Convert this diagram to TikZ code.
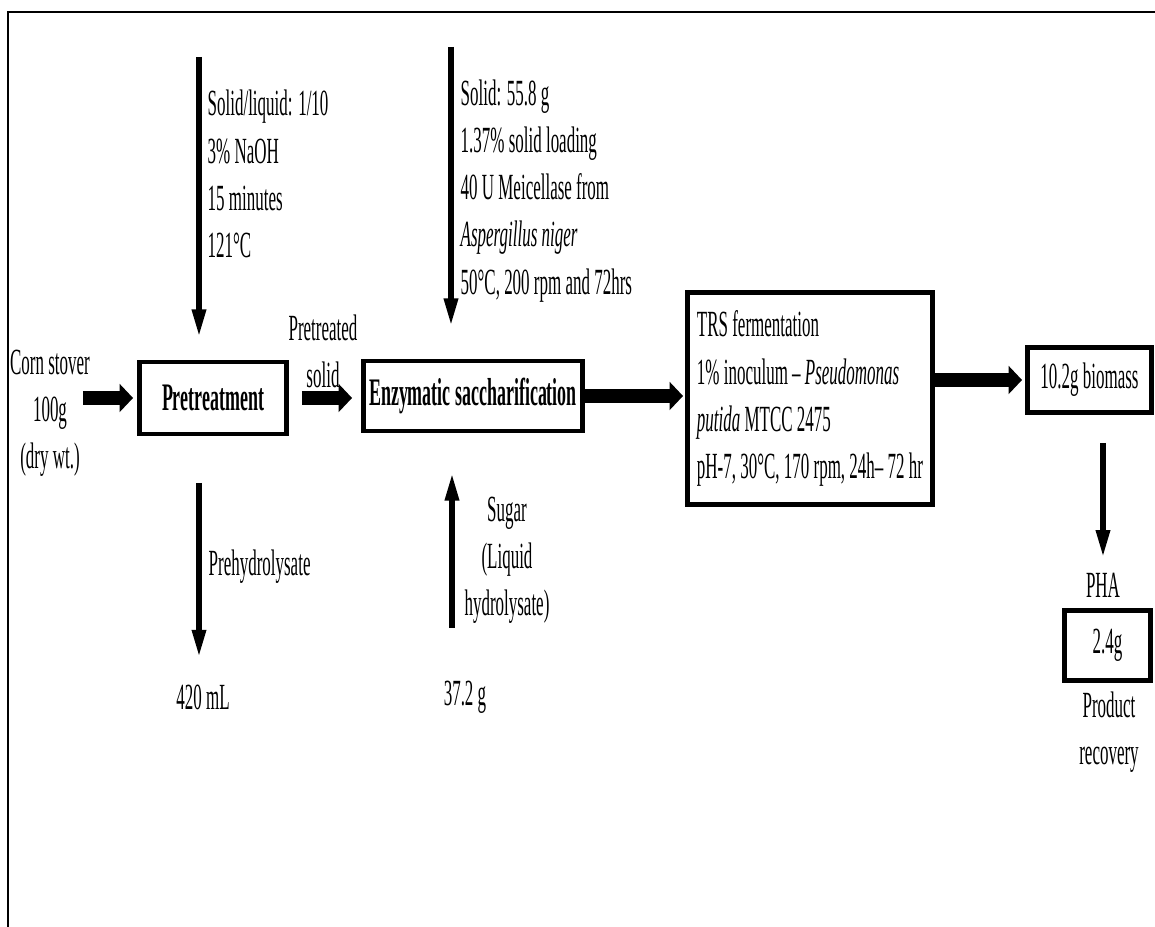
\documentclass[tikz,border=0pt]{standalone}
\usepackage{fontspec}
\setmainfont[FakeStretch=0.46]{Liberation Serif}
\usepackage{tikz}
\usetikzlibrary{positioning}
\usetikzlibrary{calc}
\usetikzlibrary{arrows.meta}
\tikzset{stage/.style={draw, line width=1.4pt, inner sep=0pt, align=center}}
\tikzset{txt/.style={inner sep=0pt, align=left}}
\tikzset{bigarrow/.style={line width=4pt, -{Triangle[length=3.8pt,width=7.8pt]}}}
\tikzset{thinarrow/.style={line width=1.5pt, -{Triangle[length=7.7pt,width=3.8pt]}}}

\begin{document}
\begin{tikzpicture}[x=0.1mm, y=-0.1mm, font=\fontsize{10.5}{13.4}\selectfont]
\def\bold{\bfseries\fontsize{11.1}{13}\selectfont}
\useasboundingbox (0,0) rectangle (1155,927);

\draw [line width=0.7pt] (8,927) -- (8,12) -- (1155,12); %frame

% process boxes
\node[stage, minimum width=14.7mm, minimum height=7.2mm, font=\bold] (pre) at (213,398) {Pretreatment};
\node[stage, minimum width=21.9mm, minimum height=7.0mm, font=\bold] (enz) at (473,396) {Enzymatic saccharification};
\node[stage, minimum width=24.5mm, minimum height=21.2mm, align=left] (trs) at (810,398.5)
  {TRS fermentation\\1\% inoculum -- \textit{Pseudomonas}\\\textit{putida} MTCC 2475\\pH-7, 30°C, 170 rpm, 24h-- 72 hr};
\node[stage, minimum width=12.4mm, minimum height=6.5mm] (bio) at (1089.5,380) {10.2g biomass};
\node[stage, minimum width=8.6mm, minimum height=7.0mm] (phabox) at (1107.5,645.5) {2.4g};

% labels
\node[txt, align=center] (corn) at (50,413) {Corn stover\\100g\\(dry wt.)};
\node[txt, anchor=west] (naoh) at (207,174) {Solid/liquid: 1/10\\3\% NaOH\\15 minutes\\121°C};
\node[txt, align=center] (solid) at (323,351) {Pretreated\\solid};
\node[txt, anchor=west] (enzyme) at (460,191)
  {Solid: 55.8 g\\1.37\% solid loading\\40 U Meicellase from\\\textit{Aspergillus niger}\\50°C, 200 rpm and 72hrs};
\node[txt, anchor=west] (prehyd) at (208,567) {Prehydrolysate};
\node[txt] (ml) at (203,697) {420 mL};
\node[txt, align=center] (sugar) at (507,560) {Sugar\\(Liquid\\hydrolysate)};
\node[txt] (gsugar) at (465,697) {37.2 g};
\node[txt] (pha) at (1103,585) {PHA};
\node[txt, align=center] (recov) at (1109,732) {Product\\recovery};

% main stream
\coordinate (feed) at (83,398);
\draw[bigarrow, shorten >=0.4mm] (feed) -- (feed -| pre.west);
\draw[bigarrow, shorten <=1.3mm, shorten >=0.9mm] (pre.east) -- (pre.east -| enz.west);
\draw[bigarrow, shorten >=0.2mm] (enz.east) -- (enz.east -| trs.west);
\draw[bigarrow, shorten >=0.3mm] (trs.east |- bio) -- (bio.west);

% side streams
\coordinate (naohtop) at (199,57);
\coordinate (enztop) at (451,47);
\coordinate (phtop) at (199,483);
\coordinate (sugbot) at (452,628);
\draw[thinarrow, shorten >=2.3mm] (naohtop) -- (naohtop |- pre.north);
\draw[thinarrow, shorten >=3.3mm] (enztop) -- (enztop |- enz.north);
\draw[thinarrow, shorten >=2.7mm] (phtop) -- (phtop |- ml.north);
\draw[thinarrow, shorten >=4mm] (sugbot) -- (sugbot |- enz.south);
\draw[thinarrow, shorten <=2.8mm, shorten >=1.5mm] (pha.north |- bio.south) -- (pha.north);
\end{tikzpicture}
\end{document}
